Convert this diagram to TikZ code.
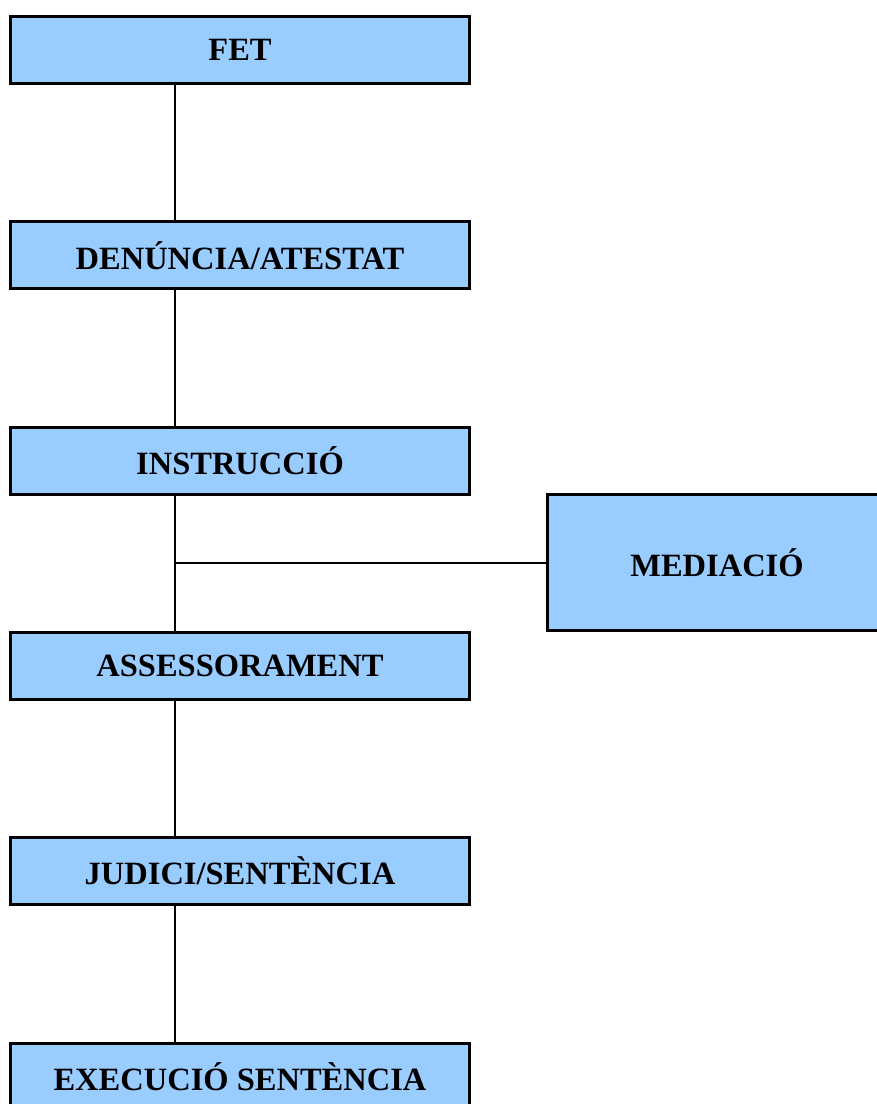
\documentclass[tikz,border=0pt]{standalone}
\usepackage{fontspec}
\setmainfont{Liberation Serif}
\usepackage{xcolor}
\usetikzlibrary{positioning}
\definecolor{boxblue}{HTML}{99CCFF}

\begin{document}
\begin{tikzpicture}[x=1pt,y=-1pt,
stagenode/.style={rectangle, draw=black, fill=boxblue, line width=3pt, minimum width=459pt, minimum height=67pt, inner sep=0pt, outer sep=0pt, font=\fontsize{32.5}{37}\selectfont\bfseries},
sidenode/.style={stagenode, minimum width=340pt, minimum height=136pt},
link/.style={line width=2pt},
node distance=138.3pt,
]
\clip (0,0) rectangle (877,1104);
%Nodes
\node[stagenode]      (fet)          at (240,50)              {FET};
\node[stagenode]      (denuncia)     [below=of fet]           {DENÚNCIA/ATESTAT};
\node[stagenode]      (instruccio)   [below=of denuncia]      {INSTRUCCIÓ};
\node[stagenode]      (assessorament)[below=of instruccio]    {ASSESSORAMENT};
\node[stagenode]      (judici)       [below=of assessorament] {JUDICI/SENTÈNCIA};
\node[stagenode]      (execucio)     [below=of judici]        {EXECUCIÓ SENTÈNCIA};
\node[sidenode]       (mediacio)     at (717,562.5)           {MEDIACIÓ};
\coordinate (spine) at (175,0);
\coordinate (branch) at (175,562.5);

%Lines
\foreach \a/\b in {fet/denuncia,denuncia/instruccio,instruccio/assessorament,assessorament/judici,judici/execucio}
  \draw[link] (\a.south -| spine) -- (\b.north -| spine);
\draw[link] (branch) -- (mediacio.west);
\end{tikzpicture}
\end{document}
